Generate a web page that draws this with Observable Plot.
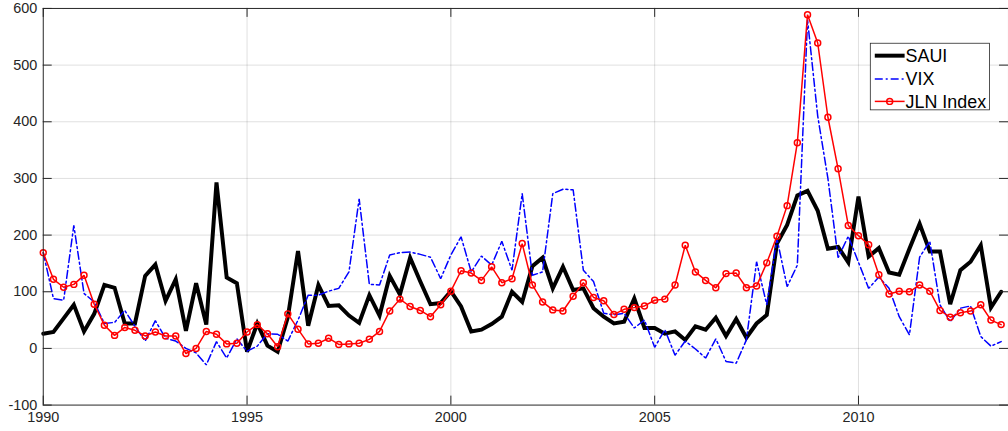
<!DOCTYPE html>
<html><head><meta charset="utf-8">
<script src="https://cdn.jsdelivr.net/npm/d3@7"></script>
<script src="https://cdn.jsdelivr.net/npm/@observablehq/plot@0.6"></script>
<style>
html,body{margin:0;padding:0;background:#fff;}
#chart{width:1008px;height:431px;overflow:hidden;position:relative;}
</style></head><body><div id="chart"></div>
<script>
const startYear = 1990; // first quarter, one value per quarter
const saui = [26,29,53,77,30,61,112,107,44,44,128,148,84,122,31,115,42,293,125,115,
  -6,44,5,-6,55,172,40,112,75,76,58,45,94,58,128,95,160,118,78,80,
  101,74,30,33,43,56,100,82,145,160,106,144,103,106,71,56,44,47,88,36,
  36,26,30,15,39,33,54,22,52,19,44,59,185,218,270,278,243,176,179,152,
  268,162,177,134,130,176,220,171,171,78,138,153,182,72,100];
const vix = [169,88,85,217,97,82,44,46,67,39,13,49,18,13,0,-8,-29,12,-17,17,
  -5,4,26,25,13,50,94,94,101,106,135,264,113,112,165,169,170,166,161,123,
  165,197,135,163,147,189,138,273,129,135,273,281,280,138,118,62,59,62,36,50,
  2,33,-12,13,-1,-17,17,-23,-26,15,153,77,194,109,147,580,410,300,160,198,
  152,106,126,106,56,24,161,189,77,47,71,75,21,4,12];
const jln = [169,122,108,113,129,78,41,23,37,32,22,29,22,22,-9,0,30,25,8,9,
  29,42,26,3,61,34,8,9,18,7,8,9,16,30,66,87,74,67,56,77,
  101,137,133,120,144,116,123,185,112,82,68,66,92,116,90,84,60,69,72,75,
  85,87,112,182,135,120,107,132,133,107,110,151,198,252,363,589,539,408,317,217,
  199,183,130,96,101,100,112,101,67,55,63,66,77,50,42];
const seriesNames = ["SAUI", "VIX", "JLN Index"];
const xTicks = [1990, 1995, 2000, 2005, 2010];
const yTicks = [-100, 0, 100, 200, 300, 400, 500, 600];

const data = saui.map((v, i) => ({t: startYear + i / 4, saui: v, vix: vix[i], jln: jln[i]}));

const W = 1014, H = 431, ml = 43, mr = 0, mt = 8, mb = 24;
const plotH = H - mt - mb, plotW = W - ml - mr, tk = 9;
const ink = "#262626";
const font = "'Liberation Sans', Arial, Helvetica, sans-serif";

const chart = Plot.plot({
  width: W, height: H, marginLeft: ml, marginRight: mr, marginTop: mt, marginBottom: mb,
  style: {fontFamily: font, fontSize: "14.5px", color: ink, background: "#fff", overflow: "visible"},
  x: {domain: [1990, 2013.68]},
  y: {domain: [-100, 600]},
  marks: [
    Plot.ruleX(xTicks.slice(1), {x: d => d, stroke: ink, strokeOpacity: 0.15}),
    Plot.ruleY(yTicks.slice(1, -1), {y: d => d, stroke: ink, strokeOpacity: 0.15}),
    Plot.line(data, {x: "t", y: "saui", stroke: "#000", strokeWidth: 4, strokeLinejoin: "miter", strokeMiterlimit: 4}),
    Plot.line(data, {x: "t", y: "vix", stroke: "#0000ff", strokeWidth: 1.5, strokeDasharray: "8,3,2,3", strokeLinejoin: "miter"}),
    Plot.line(data, {x: "t", y: "jln", stroke: "#ff0000", strokeWidth: 1.5, strokeLinejoin: "miter"}),
    Plot.dot(data, {x: "t", y: "jln", r: 3, stroke: "#ff0000", strokeWidth: 1.5, fill: "none"}),
    Plot.ruleX(xTicks, {x: d => d, insetTop: plotH - tk, stroke: ink}),
    Plot.ruleX(xTicks, {x: d => d, insetBottom: plotH - tk, stroke: ink}),
    Plot.ruleY(yTicks, {y: d => d, insetRight: plotW - tk, stroke: ink}),
    Plot.ruleY(yTicks, {y: d => d, insetLeft: plotW - tk, stroke: ink}),
    Plot.frame({stroke: ink}),
    Plot.axisX({ticks: xTicks, tickSize: 0, tickPadding: 7, tickFormat: d => String(d), label: null}),
    Plot.axisY({ticks: yTicks, tickSize: 0, tickPadding: 6, tickFormat: d => String(d), label: null})
  ]
});

// legend box inside the axes (top right)
const svg = d3.select(chart);
const lg = svg.append("g").attr("font-family", font).attr("font-size", 18).attr("fill", "#000")
  .attr("text-anchor", "start");
lg.append("rect").attr("x", 875.5).attr("y", 43.5).attr("width", 120).attr("height", 67)
  .attr("fill", "#fff").attr("stroke", ink).attr("stroke-width", 0.8);
const rows = [
  {name: seriesNames[0], y: 56, stroke: "#000", w: 4, dash: null, marker: false},
  {name: seriesNames[1], y: 79.5, stroke: "#0000ff", w: 1.5, dash: "8,3,2,3", marker: false},
  {name: seriesNames[2], y: 102, stroke: "#ff0000", w: 1.5, dash: null, marker: true}
];
rows.forEach(r => {
  lg.append("line").attr("x1", 880).attr("x2", 910).attr("y1", r.y).attr("y2", r.y)
    .attr("stroke", r.stroke).attr("stroke-width", r.w).attr("stroke-dasharray", r.dash);
  if (r.marker) lg.append("circle").attr("cx", 895).attr("cy", r.y).attr("r", 3)
    .attr("fill", "none").attr("stroke", r.stroke).attr("stroke-width", 1.5);
  lg.append("text").attr("x", 911).attr("y", r.y).attr("dy", "0.36em")
    .attr("text-anchor", "start").text(r.name);
});

document.getElementById("chart").appendChild(chart);
</script></body></html>
